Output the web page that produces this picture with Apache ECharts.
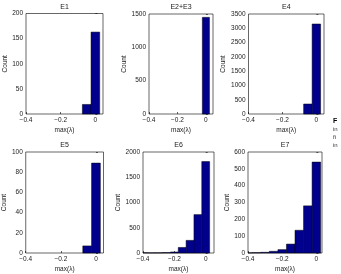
<!DOCTYPE html>
<html>
<head>
<meta charset="utf-8">
<script src="https://cdn.jsdelivr.net/npm/echarts@6/dist/echarts.min.js"></script>
<style>
html, body { margin: 0; padding: 0; background: #fff; }
#chart { width: 341px; height: 274px; }
</style>
</head>
<body>
<div id="chart"></div>
<script>
// histogram bins (centres of the bins, width in data units)
var binCenters = [-0.4, -0.35, -0.3, -0.25, -0.2, -0.15, -0.1, -0.05, 0];
var binWidth = 0.05;

var panelTitles = ['E1', 'E2+E3', 'E4', 'E5', 'E6', 'E7'];
var e1Counts  = [0, 0, 0, 0, 0, 0, 0, 19, 163];
var e23Counts = [0, 0, 0, 0, 0, 0, 0, 0, 1450];
var e4Counts  = [0, 0, 0, 0, 0, 0, 0, 350, 3150];
var e5Counts  = [0, 0, 0, 0, 0, 0, 0, 7, 89];
var e6Counts  = [5, 3, 4, 8, 20, 110, 250, 760, 1810];
var e7Counts  = [1, 2, 4, 10, 20, 53, 135, 280, 540];
var allCounts = [e1Counts, e23Counts, e4Counts, e5Counts, e6Counts, e7Counts];

var xTicks = [-0.4, -0.2, 0];
var yMax = [200, 1500, 3500, 100, 2000, 600];
var yStep = [50, 500, 500, 20, 500, 100];

var xLabel = 'max(λ)';
var yLabel = 'Count';

// layout of the six axes boxes
var boxes = [
    {left: 26, top: 13.5, width: 77, height: 100.5, xmax: 0.044},
    {left: 149, top: 14, width: 64, height: 100, xmax: 0.05},
    {left: 248.5, top: 14, width: 75.5, height: 100, xmax: 0.045},
    {left: 25.5, top: 152, width: 78, height: 102, xmax: 0.043},
    {left: 143, top: 152, width: 71, height: 102, xmax: 0.053},
    {left: 248, top: 152, width: 74, height: 102, xmax: 0.033}
];

var font = 'Liberation Sans, Arial, sans-serif';
var txt = '#1a1a1a';
var barFill = '#00008c';

function fmtX(v){
    if (Math.abs(v) < 1e-9) return '0';
    return (v < 0 ? '\u2212' : '') + Math.abs(v).toFixed(1);
}

function histItem(params, api){
    var c = api.value(0);
    var n = api.value(1);
    if (!(n > 0)) return null;
    var p0 = api.coord([c - binWidth / 2, n]);
    var p1 = api.coord([c + binWidth / 2, 0]);
    var rect = echarts.graphic.clipRectByRect({
        x: p0[0], y: p0[1], width: p1[0] - p0[0], height: p1[1] - p0[1]
    }, {
        x: params.coordSys.x, y: params.coordSys.y,
        width: params.coordSys.width, height: params.coordSys.height
    });
    if (!rect) return null;
    return {
        type: 'rect',
        shape: rect,
        style: {fill: barFill, stroke: '#000', lineWidth: 0.5}
    };
}

var grids = [], xAxes = [], yAxes = [], series = [], titles = [];
for (var i = 0; i < 6; i++) {
    var b = boxes[i];
    grids.push({
        left: b.left, top: b.top, width: b.width, height: b.height,
        show: true, borderColor: '#000', borderWidth: 0.6, backgroundColor: '#fff'
    });
    titles.push({
        text: panelTitles[i],
        left: b.left + b.width / 2, top: b.top - 10, padding: 0,
        textAlign: 'center',
        textStyle: {fontFamily: font, fontSize: 7, fontWeight: 'normal', color: txt}
    });
    xAxes.push({
        type: 'value', gridIndex: i, min: -0.4, max: b.xmax,
        name: xLabel, nameLocation: 'middle', nameGap: 13,
        nameTextStyle: {fontFamily: font, fontSize: 6.5, color: txt},
        axisLine: {show: false},
        axisTick: {inside: true, length: 2, customValues: xTicks, lineStyle: {color: '#000', width: 0.6}},
        axisLabel: {customValues: xTicks, formatter: fmtX, margin: 3,
            fontFamily: font, fontSize: 6.5, color: txt},
        splitLine: {show: false}
    });
    yAxes.push({
        type: 'value', gridIndex: i, min: 0, max: yMax[i], interval: yStep[i],
        name: yLabel, nameLocation: 'middle', nameRotate: 90,
        nameGap: yMax[i] >= 1000 ? 18 : 15,
        nameTextStyle: {fontFamily: font, fontSize: 6.5, color: txt},
        axisLine: {show: false},
        axisTick: {inside: true, length: 2, lineStyle: {color: '#000', width: 0.6}},
        axisLabel: {margin: 3, fontFamily: font, fontSize: 6.5, color: txt,
            formatter: function(v){ return String(v); }},
        splitLine: {show: false}
    });
    var data = [];
    for (var k = 0; k < binCenters.length; k++) {
        data.push([binCenters[k], allCounts[i][k]]);
    }
    series.push({
        type: 'custom', xAxisIndex: i, yAxisIndex: i,
        renderItem: histItem, data: data, silent: true
    });
}

var myChart = echarts.init(document.getElementById('chart'), null, {renderer: 'canvas'});
myChart.setOption({
    animation: false,
    backgroundColor: '#fff',
    title: titles,
    grid: grids,
    xAxis: xAxes,
    yAxis: yAxes,
    series: series,
    graphic: [
        {type: 'text', left: 333, top: 118, style: {text: 'F', fontFamily: font, fontSize: 7, fontWeight: 'bold', fill: '#000'}},
        {type: 'text', left: 333, top: 126, style: {text: 'in', fontFamily: font, fontSize: 6, fill: '#333'}},
        {type: 'text', left: 333, top: 134, style: {text: 'fi', fontFamily: font, fontSize: 6, fill: '#333'}},
        {type: 'text', left: 333, top: 142, style: {text: 'in', fontFamily: font, fontSize: 6, fill: '#333'}}
    ]
});
</script>
</body>
</html>
